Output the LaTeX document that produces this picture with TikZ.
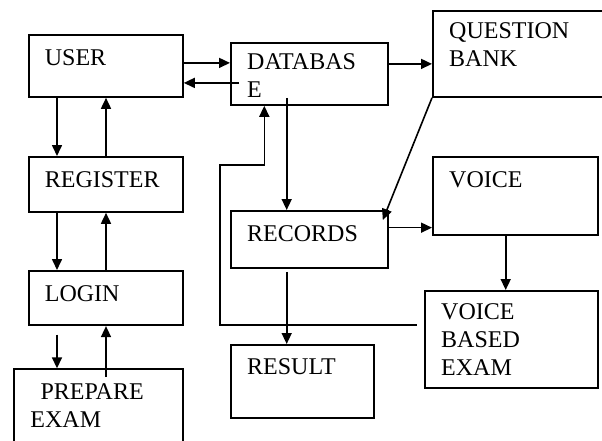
\documentclass[tikz,border=0pt]{standalone}
\usepackage{fontspec}
\setmainfont{Liberation Serif}
\usetikzlibrary{arrows.meta}
\begin{document}
\begin{tikzpicture}[
    x=1pt, y=-1pt,
    box/.style={rectangle, draw, line width=1.8pt, anchor=north west, inner sep=0pt},
    txt/.style={font=\fontsize{24}{28}\selectfont, align=left, anchor=north west, inner sep=0pt, xshift=17pt, yshift=-15pt},
    arrow/.style={-{Triangle[length=11pt,width=10pt]}, line width=1.6pt}
]
\useasboundingbox (0,0) rectangle (602,440);

% Left column
\node[box, minimum width=154.3, minimum height=62, label={[txt]north west:USER}] (user) at (27.7,34) {};
\node[box, minimum width=154.3, minimum height=55, label={[txt]north west:REGISTER}] (reg) at (27.7,156) {};
\node[box, minimum width=154.3, minimum height=54.3, label={[txt]north west:LOGIN}] (login) at (27.7,270) {};
\node[box, minimum width=169, minimum height=90, label={[txt]north west:\hspace*{10pt}PREPARE\\EXAM}] (prep) at (13.3,368.3) {};

% Middle column
\node[box, minimum width=156.7, minimum height=62, label={[txt, yshift=4pt]north west:DATABAS\\E}] (db) at (230,42) {};
\node[box, minimum width=156.7, minimum height=56.7, label={[txt]north west:RECORDS}] (rec) at (230,210) {};
\node[box, minimum width=142.7, minimum height=72.7, label={[txt, yshift=1pt]north west:RESULT}] (res) at (230,344) {};

% Right column
\node[box, minimum width=190, minimum height=86, label={[txt, yshift=3pt]north west:QUESTION\\BANK}] (qb) at (432,10) {};
\node[box, minimum width=165, minimum height=78, label={[txt]north west:VOICE}] (voice) at (432,156) {};
\node[box, minimum width=173, minimum height=96.7, label={[txt, yshift=2pt]north west:VOICE\\BASED\\EXAM}] (vbe) at (424,290) {};

% Left column arrows
\draw[arrow] ([xshift=29.3pt]user.south west) -- ([xshift=29.3pt]reg.north west);
\draw[arrow] ([xshift=78.3pt]reg.north west) -- ([xshift=78.3pt]user.south west);
\draw[arrow] ([xshift=29.3pt]reg.south west) -- ([xshift=29.3pt]login.north west);
\draw[arrow] ([xshift=78.3pt]login.north west) -- ([xshift=78.3pt]reg.south west);
\draw[arrow, shorten <=8.4pt] ([xshift=29.3pt]login.south west) -- ([xshift=43.7pt]prep.north west);
\draw[arrow, shorten <=-8.7pt] ([xshift=92.7pt]prep.north west) -- ([xshift=78.3pt]login.south west);

% User and database
\draw[arrow] ([yshift=3pt]user.east) -- ([yshift=3pt]user.east -| db.west);
\draw[arrow, shorten <=-9pt] ([yshift=-17pt]user.east -| db.west) -- ([yshift=-17pt]user.east);

% Database, records and result
\draw[arrow] ([yshift=10pt]db.east) -- ([yshift=10pt]db.east -| qb.west);
\draw[arrow, shorten <=-8pt] ([xshift=56.7pt]db.south west) -- ([xshift=56.7pt]rec.north west);
\draw[arrow, shorten <=3.3pt] ([xshift=56.7pt]rec.south west) -- ([xshift=56.7pt]rec.south west |- res.north);
\draw[arrow] (qb.south west) -- ([shift={(-5.7pt,-10pt)}]rec.north east);

% Voice
\draw[arrow] ([yshift=11.6pt]rec.east) -- ([yshift=11.6pt]rec.east -| voice.west);
\draw[arrow] ([xshift=73.7pt]voice.south west) -- ([xshift=73.7pt]voice.south west |- vbe.north);

% Feedback to database
\draw[arrow, shorten <=7.3pt] ([yshift=14.3pt]vbe.west) -- ++(-204,0) -- ++(0,-160) -| ([xshift=34.3pt]db.south west);
\end{tikzpicture}
\end{document}
